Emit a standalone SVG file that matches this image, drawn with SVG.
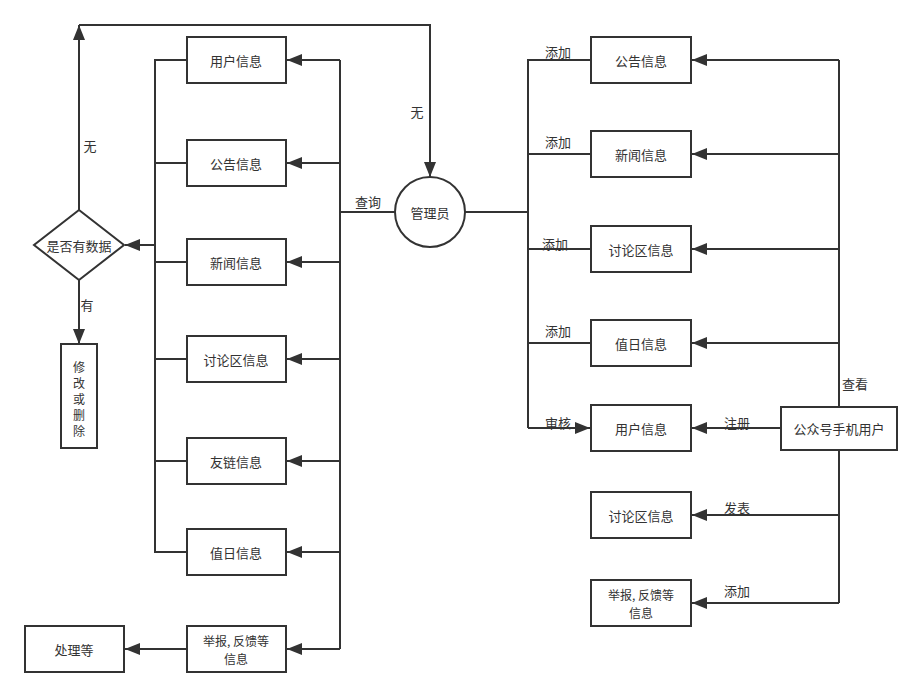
<svg xmlns="http://www.w3.org/2000/svg" width="922" height="697" viewBox="0 0 922 697">
  <style>
    .box { fill: #fff; stroke: #333; stroke-width: 2; }
    .edge { fill: none; stroke: #333; stroke-width: 2; }
    text { font-family: "Noto Sans CJK SC", "Liberation Sans", sans-serif; font-size: 13px; fill: #333; }
    .c { text-anchor: middle; dominant-baseline: central; }
    .v { font-size: 12px; }
  </style>
  <defs>
    <marker id="arr" markerUnits="userSpaceOnUse" markerWidth="16" markerHeight="12" viewBox="0 0 16 12" refX="15" refY="6" orient="auto">
      <path d="M0,0 L15,6 L0,12 Z" fill="#333"/>
    </marker>
  </defs>

  <g id="connectors">
    <!-- admin query fan-out -->
    <path class="edge" d="M395,212 H340"/>
    <path class="edge" d="M340,60 V649"/>
    <path class="edge" marker-end="url(#arr)" d="M340,60 H287"/>
    <path class="edge" marker-end="url(#arr)" d="M340,163 H287"/>
    <path class="edge" marker-end="url(#arr)" d="M340,262 H287"/>
    <path class="edge" marker-end="url(#arr)" d="M340,359 H287"/>
    <path class="edge" marker-end="url(#arr)" d="M340,461 H287"/>
    <path class="edge" marker-end="url(#arr)" d="M340,552 H287"/>
    <path class="edge" marker-end="url(#arr)" d="M340,649 H287"/>
    <!-- results gathered into decision -->
    <path class="edge" d="M187,60 H155 V552 H187"/>
    <path class="edge" d="M155,163 H187"/>
    <path class="edge" d="M155,262 H187"/>
    <path class="edge" d="M155,359 H187"/>
    <path class="edge" d="M155,461 H187"/>
    <path class="edge" marker-end="url(#arr)" d="M155,245 H125"/>
    <!-- decision branches -->
    <path class="edge" marker-end="url(#arr)" d="M79,210 V25"/>
    <path class="edge" marker-end="url(#arr)" d="M79,25 H430 V177"/>
    <path class="edge" marker-end="url(#arr)" d="M79,280 V344"/>
    <!-- report handling -->
    <path class="edge" marker-end="url(#arr)" d="M187,649 H125"/>
    <!-- admin add / review -->
    <path class="edge" d="M465,212 H528"/>
    <path class="edge" d="M591,60 H528 V428"/>
    <path class="edge" d="M528,154 H591"/>
    <path class="edge" d="M528,249 H591"/>
    <path class="edge" d="M528,343 H591"/>
    <path class="edge" marker-end="url(#arr)" d="M528,428 H590"/>
    <!-- mobile user actions -->
    <path class="edge" d="M839,407 V60"/>
    <path class="edge" marker-end="url(#arr)" d="M839,60 H692"/>
    <path class="edge" marker-end="url(#arr)" d="M839,154 H692"/>
    <path class="edge" marker-end="url(#arr)" d="M839,249 H692"/>
    <path class="edge" marker-end="url(#arr)" d="M839,343 H692"/>
    <path class="edge" marker-end="url(#arr)" d="M781,428 H692"/>
    <path class="edge" d="M839,450 V603"/>
    <path class="edge" marker-end="url(#arr)" d="M839,515 H692"/>
    <path class="edge" marker-end="url(#arr)" d="M839,603 H692"/>

    <!-- edge labels -->
    <text x="368" y="201" class="c">查询</text>
    <text x="90" y="145" class="c">无</text>
    <text x="417" y="111" class="c">无</text>
    <text x="87" y="304" class="c">有</text>
    <text x="558" y="51" class="c">添加</text>
    <text x="558" y="141" class="c">添加</text>
    <text x="555" y="243" class="c">添加</text>
    <text x="558" y="330" class="c">添加</text>
    <text x="558" y="422" class="c">审核</text>
    <text x="737" y="422" class="c">注册</text>
    <text x="737" y="507" class="c">发表</text>
    <text x="737" y="590" class="c">添加</text>
    <text x="855" y="383" class="c">查看</text>
  </g>

  <g id="admin">
    <circle class="box" cx="430" cy="212" r="35"/>
    <text x="430" y="212" class="c">管理员</text>
  </g>

  <g id="decision">
    <path class="box" d="M79,210 L124,245 L79,280 L34,245 Z"/>
    <text x="79" y="245" class="c">是否有数据</text>
  </g>

  <g id="edit">
    <rect class="box" x="61" y="344" width="36" height="104"/>
    <text x="79" y="366" class="c v">修</text>
    <text x="79" y="382" class="c v">改</text>
    <text x="79" y="398" class="c v">或</text>
    <text x="79" y="414" class="c v">删</text>
    <text x="79" y="430" class="c v">除</text>
  </g>

  <g id="handle">
    <rect class="box" x="25" y="626" width="99" height="46"/>
    <text x="74" y="649" class="c">处理等</text>
  </g>

  <g id="q-user">
    <rect class="box" x="187" y="37" width="99" height="46"/>
    <text x="236" y="60" class="c">用户信息</text>
  </g>
  <g id="q-notice">
    <rect class="box" x="187" y="140" width="99" height="46"/>
    <text x="236" y="163" class="c">公告信息</text>
  </g>
  <g id="q-news">
    <rect class="box" x="187" y="239" width="99" height="46"/>
    <text x="236" y="262" class="c">新闻信息</text>
  </g>
  <g id="q-forum">
    <rect class="box" x="187" y="336" width="99" height="46"/>
    <text x="236" y="359" class="c">讨论区信息</text>
  </g>
  <g id="q-links">
    <rect class="box" x="187" y="438" width="99" height="46"/>
    <text x="236" y="461" class="c">友链信息</text>
  </g>
  <g id="q-duty">
    <rect class="box" x="187" y="529" width="99" height="46"/>
    <text x="236" y="552" class="c">值日信息</text>
  </g>
  <g id="q-report">
    <rect class="box" x="187" y="626" width="99" height="46"/>
    <text x="236" y="640" class="c v">举报, 反馈等</text>
    <text x="236" y="658" class="c v">信息</text>
  </g>

  <g id="a-notice">
    <rect class="box" x="591" y="37" width="100" height="46"/>
    <text x="641" y="60" class="c">公告信息</text>
  </g>
  <g id="a-news">
    <rect class="box" x="591" y="131" width="100" height="46"/>
    <text x="641" y="154" class="c">新闻信息</text>
  </g>
  <g id="a-forum">
    <rect class="box" x="591" y="226" width="100" height="46"/>
    <text x="641" y="249" class="c">讨论区信息</text>
  </g>
  <g id="a-duty">
    <rect class="box" x="591" y="320" width="100" height="46"/>
    <text x="641" y="343" class="c">值日信息</text>
  </g>
  <g id="a-user">
    <rect class="box" x="591" y="405" width="100" height="46"/>
    <text x="641" y="428" class="c">用户信息</text>
  </g>
  <g id="m-forum">
    <rect class="box" x="591" y="492" width="100" height="46"/>
    <text x="641" y="515" class="c">讨论区信息</text>
  </g>
  <g id="m-report">
    <rect class="box" x="591" y="580" width="100" height="46"/>
    <text x="641" y="594" class="c v">举报, 反馈等</text>
    <text x="641" y="612" class="c v">信息</text>
  </g>

  <g id="mobile-user">
    <rect class="box" x="781" y="407" width="116" height="43"/>
    <text x="839" y="428" class="c">公众号手机用户</text>
  </g>
</svg>
